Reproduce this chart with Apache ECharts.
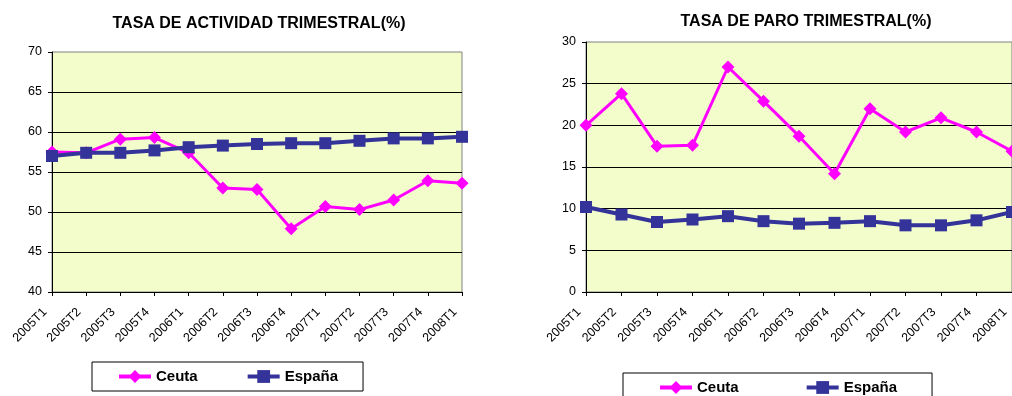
<!DOCTYPE html>
<html>
<head>
<meta charset="utf-8">
<script src="https://cdn.jsdelivr.net/npm/echarts@6/dist/echarts.min.js"></script>
<style>html,body{margin:0;padding:0;background:#fff}#c{width:1012px;height:396px}</style>
</head>
<body>
<div id="c"></div>
<script>
var categories = ['2005T1','2005T2','2005T3','2005T4','2006T1','2006T2','2006T3','2006T4','2007T1','2007T2','2007T3','2007T4','2008T1'];
var actividadCeuta  = [57.5, 57.4, 59.1, 59.3, 57.4, 53.0, 52.8, 47.9, 50.7, 50.3, 51.5, 53.9, 53.6];
var actividadEspana = [57.0, 57.4, 57.4, 57.7, 58.1, 58.3, 58.5, 58.6, 58.6, 58.9, 59.2, 59.2, 59.4];
var paroCeuta  = [20.0, 23.8, 17.5, 17.6, 27.0, 22.9, 18.7, 14.2, 22.0, 19.2, 20.9, 19.2, 16.9];
var paroEspana = [10.2, 9.3, 8.4, 8.7, 9.1, 8.5, 8.2, 8.3, 8.5, 8.0, 8.0, 8.6, 9.6];
var titles = ['TASA DE ACTIVIDAD TRIMESTRAL(%)', 'TASA DE PARO TRIMESTRAL(%)'];
var seriesNames = ['Ceuta', 'España'];
var actAxis = {min: 40, max: 70, interval: 5};
var paroAxis = {min: 0, max: 30, interval: 5};

var FONT = '"Liberation Sans", Arial, sans-serif';
var PINK = '#FF00FF', NAVY = '#333399';

function xAxis(gi) {
  return {
    type: 'category', gridIndex: gi, data: categories, boundaryGap: false,
    axisLine: {lineStyle: {color: '#000', width: 1}},
    axisTick: {show: true, length: 4, lineStyle: {color: '#000'}},
    axisLabel: {rotate: 45, margin: 11, padding: [0, 10, 0, 0], color: '#000', fontFamily: FONT, fontSize: 12.5, interval: 0},
    splitLine: {show: false}
  };
}
function yAxis(gi, s) {
  return {
    type: 'value', gridIndex: gi, min: s.min, max: s.max, interval: s.interval,
    axisLine: {show: true, lineStyle: {color: '#000', width: 1}},
    axisTick: {show: true, length: 4, lineStyle: {color: '#000'}},
    axisLabel: {margin: 10, color: '#000', fontFamily: FONT, fontSize: 12.5},
    splitLine: {show: true, showMinLine: false, showMaxLine: false, lineStyle: {color: '#000', width: 1}}
  };
}
function lineSeries(name, data, gi, isCeuta) {
  return {
    type: 'line', name: name, xAxisIndex: gi, yAxisIndex: gi, data: data,
    symbol: isCeuta ? 'diamond' : 'rect',
    symbolSize: isCeuta ? 13 : 12,
    showAllSymbol: true,
    itemStyle: {color: isCeuta ? PINK : NAVY},
    lineStyle: {color: isCeuta ? PINK : NAVY, width: isCeuta ? 3 : 4},
    animation: false
  };
}
function legend(left, top, pad, gap) {
  return {
    left: left, top: top, orient: 'horizontal',
    data: seriesNames,
    padding: [6, pad, 6, pad],
    itemGap: gap, itemWidth: 32, itemHeight: 16,
    lineStyle: {width: 4},
    borderColor: '#000', borderWidth: 1, backgroundColor: '#fff',
    textStyle: {color: '#000', fontFamily: FONT, fontWeight: 'bold', fontSize: 15, lineHeight: 17},
    selectedMode: false
  };
}

var chart = echarts.init(document.getElementById('c'), null, {renderer: 'canvas'});
chart.setOption({
  backgroundColor: '#fff',
  animation: false,
  title: [
    {text: titles[0], left: 254, top: 11, textAlign: 'center', textStyle: {fontFamily: FONT, fontWeight: 'bold', fontSize: 16, color: '#000'}},
    {text: titles[1], left: 801, top: 9, textAlign: 'center', textStyle: {fontFamily: FONT, fontWeight: 'bold', fontSize: 16, color: '#000'}}
  ],
  grid: [
    {left: 52, right: 550, top: 52, bottom: 104, outerBoundsMode: 'none', containLabel: false, show: true, backgroundColor: '#F3FDCB', borderColor: '#808080', borderWidth: 1},
    {left: 586, right: 0, top: 42, bottom: 104, outerBoundsMode: 'none', containLabel: false, show: true, backgroundColor: '#F3FDCB', borderColor: '#808080', borderWidth: 1}
  ],
  xAxis: [xAxis(0), xAxis(1)],
  yAxis: [yAxis(0, actAxis), yAxis(1, paroAxis)],
  legend: [legend(92, 362, 25, 48), legend(623, 373, 35, 66)],
  series: [
    lineSeries(seriesNames[0], actividadCeuta, 0, true),
    lineSeries(seriesNames[1], actividadEspana, 0, false),
    lineSeries(seriesNames[0], paroCeuta, 1, true),
    lineSeries(seriesNames[1], paroEspana, 1, false)
  ]
});
</script>
</body>
</html>
